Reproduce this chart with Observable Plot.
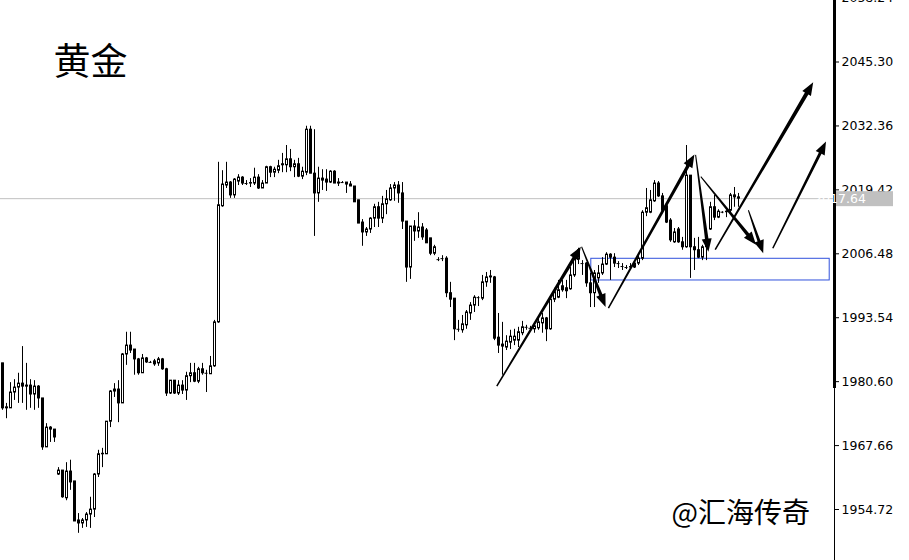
<!DOCTYPE html>
<html><head><meta charset="utf-8">
<script src="https://cdn.jsdelivr.net/npm/d3@7"></script>
<script src="https://cdn.jsdelivr.net/npm/@observablehq/plot@0.6"></script>
<style>html,body{margin:0;padding:0;background:#fff;} #chart{width:909px;height:560px;overflow:hidden;}</style>
</head><body><div id="chart"></div>
<script>
const title = "黄金";
const watermark = "@汇海传奇";

const open = [
1984.3,1975.2,1975.2,1978.4,1979.4,1980.2,1979.8,1979.8,1978.0,1979.6,
1977.2,1967.3,1971.3,1970.9,1961.8,1962.6,1957.0,1962.4,1960.4,1952.5,
1951.9,1952.5,1953.7,1954.7,1961.8,1965.9,1965.9,1972.5,1978.6,1979.0,
1976.2,1986.1,1987.9,1987.1,1985.1,1982.3,1985.3,1984.5,1984.7,1984.3,
1985.1,1983.1,1978.2,1980.8,1978.2,1979.8,1978.8,1981.7,1982.3,1980.6,
1983.1,1982.3,1982.1,1983.7,1992.6,2016.1,2020.3,2020.9,2018.3,2021.1,
2021.9,2020.7,2020.7,2020.7,2021.9,2019.7,2020.7,2024.0,2022.9,2023.3,
2024.6,2024.4,2025.6,2024.0,2024.6,2022.1,2022.9,2031.6,2022.7,2018.7,
2021.7,2021.5,2020.9,2023.1,2020.9,2020.9,2020.9,2020.5,2020.1,2017.3,
2012.8,2010.8,2011.4,2013.6,2015.9,2013.6,2016.5,2017.3,2019.7,2020.3,
2018.7,2013.0,2003.7,2012.0,2011.0,2011.8,2011.2,2009.6,2006.5,2005.3,
2005.5,2005.5,1998.5,1997.4,1991.2,1991.0,1992.0,1994.4,1996.0,1997.6,
1997.4,2000.7,2001.7,2001.7,1989.5,1988.1,1987.5,1988.5,1988.9,1988.9,
1990.4,1991.6,1991.4,1991.2,1991.4,1992.4,1993.4,1991.2,1997.2,1997.6,
1999.9,1999.5,1999.3,2002.1,2005.3,2004.5,2004.5,2000.5,1998.5,2001.5,
2002.5,2004.3,2006.3,2005.7,2004.5,2003.9,2003.7,2003.7,2004.5,2004.5,
2005.5,2014.8,2014.8,2017.1,2020.7,2018.1,2016.1,2013.2,2008.8,2011.4,
2008.8,2007.8,2022.3,2007.8,2007.2,2005.7,2007.8,2011.4,2015.9,2013.8,
2014.9,2014.9,2015.2,2018.3,2017.9
];
const high = [
1984.3,1976.2,1980.4,1981.0,1982.3,1987.7,1984.3,1981.0,1980.8,1979.8,
1977.2,1972.1,1971.5,1970.9,1963.2,1962.6,1964.2,1964.7,1960.4,1953.9,
1952.9,1954.1,1957.2,1962.0,1966.7,1967.1,1972.5,1978.8,1980.2,1980.8,
1986.3,1990.6,1990.6,1987.1,1985.3,1986.1,1985.5,1984.7,1985.1,1985.5,
1985.3,1983.3,1980.8,1980.8,1980.8,1980.8,1982.5,1984.3,1984.3,1983.5,
1984.3,1982.9,1985.7,1993.0,2025.0,2023.3,2025.0,2021.1,2021.7,2022.5,
2022.1,2021.3,2021.7,2023.8,2022.5,2021.3,2024.2,2024.2,2024.0,2025.4,
2026.8,2028.4,2027.6,2025.4,2025.8,2024.0,2032.3,2032.3,2031.6,2024.0,
2023.5,2023.5,2023.3,2023.3,2021.7,2021.1,2020.9,2021.1,2020.1,2017.3,
2013.4,2011.8,2013.8,2016.5,2016.9,2018.1,2019.3,2020.5,2020.9,2021.1,
2020.9,2013.0,2012.0,2013.2,2014.8,2012.6,2011.6,2009.6,2008.2,2005.7,
2006.1,2005.9,2000.7,1997.4,1993.0,1994.0,1995.0,1996.6,1998.0,1997.8,
2002.1,2002.7,2003.1,2001.9,1994.4,1992.6,1989.9,1991.0,1991.2,1991.6,
1992.8,1992.0,1991.8,1992.4,1993.6,1994.4,1993.6,1997.6,1999.5,2001.1,
2001.1,2001.1,2003.7,2006.7,2007.6,2005.1,2004.7,2002.5,2003.1,2004.1,
2005.7,2006.7,2006.5,2006.5,2004.9,2004.5,2004.1,2004.5,2005.1,2006.1,
2015.2,2019.7,2019.3,2021.3,2021.1,2018.7,2016.3,2013.6,2011.6,2011.8,
2009.8,2028.4,2022.3,2009.6,2009.8,2008.2,2009.2,2016.9,2018.3,2015.4,
2015.0,2015.2,2018.7,2019.9,2018.7
];
const low = [
1974.8,1973.1,1975.2,1976.8,1976.2,1976.2,1974.8,1975.2,1974.8,1975.2,
1966.7,1967.3,1968.3,1968.3,1961.6,1957.0,1956.5,1958.6,1952.3,1949.9,
1950.9,1951.1,1950.9,1953.1,1961.2,1963.2,1965.9,1971.3,1977.4,1972.3,
1976.2,1983.9,1986.3,1981.9,1981.9,1982.3,1984.3,1984.3,1983.7,1983.7,
1982.9,1977.6,1978.0,1978.0,1977.8,1978.0,1976.8,1980.4,1980.4,1980.2,
1981.9,1978.4,1982.1,1983.5,1992.4,2015.9,2019.7,2017.7,2017.7,2020.3,
2020.3,2020.3,2019.9,2020.3,2019.5,2019.7,2020.7,2021.9,2021.9,2022.7,
2022.9,2022.9,2023.1,2021.9,2021.9,2021.5,2022.3,2022.7,2010.0,2016.9,
2019.3,2019.1,2020.7,2020.7,2020.1,2020.7,2018.7,2020.1,2016.9,2012.6,
2008.0,2010.0,2010.6,2011.8,2011.8,2012.6,2014.4,2017.1,2017.1,2016.7,
2011.4,2000.7,2001.3,2009.0,2009.6,2009.2,2008.6,2006.1,2006.1,2004.9,
2004.9,1997.6,1995.6,1988.9,1990.6,1990.4,1991.2,1993.0,1994.6,1995.8,
1997.0,1999.7,2000.5,1988.9,1986.3,1981.9,1986.9,1987.1,1987.9,1987.5,
1989.9,1991.0,1991.0,1990.4,1991.0,1990.4,1988.7,1991.0,1996.6,1997.4,
1998.7,1997.4,1999.1,2001.7,2004.3,2002.1,1999.7,1995.6,1995.6,2000.5,
2002.1,2004.1,2001.1,2003.7,2003.5,2003.1,2003.3,2003.5,2003.5,2004.1,
2005.1,2014.0,2014.6,2016.9,2017.9,2014.8,2012.6,2008.8,2008.6,2008.6,
2007.2,2007.6,2001.5,2003.1,2005.5,2005.1,2005.1,2011.2,2013.2,2013.6,
2014.6,2013.8,2014.8,2015.9,2015.9
];
const close = [
1975.2,1975.4,1978.4,1979.4,1980.2,1979.6,1979.6,1978.0,1979.6,1977.2,
1967.3,1971.3,1970.9,1969.3,1962.6,1957.2,1962.4,1960.2,1952.3,1951.9,
1952.5,1953.7,1954.7,1961.8,1965.9,1966.0,1972.5,1978.6,1979.0,1976.2,
1986.1,1987.9,1986.9,1985.1,1982.3,1985.3,1984.5,1984.5,1984.1,1985.1,
1983.1,1978.2,1980.8,1978.2,1979.8,1978.8,1981.7,1982.3,1980.6,1983.1,
1982.3,1982.3,1983.7,1992.6,2016.3,2020.5,2020.9,2018.3,2021.5,2021.9,
2020.7,2020.7,2020.8,2021.9,2019.7,2020.7,2024.0,2022.9,2023.5,2024.2,
2024.4,2025.6,2024.0,2024.6,2022.1,2023.1,2031.6,2022.7,2018.7,2021.7,
2021.3,2020.9,2023.1,2020.7,2020.7,2020.9,2020.5,2020.1,2016.9,2012.6,
2010.8,2011.4,2013.6,2015.9,2013.6,2016.5,2017.5,2019.7,2020.3,2018.7,
2013.0,2003.7,2012.0,2011.0,2011.8,2009.8,2008.6,2006.5,2007.8,2005.3,
2005.5,1998.5,1997.2,1991.2,1991.2,1992.2,1994.6,1996.0,1997.6,1997.6,
2000.7,2001.7,2001.9,1989.3,1987.9,1987.7,1988.7,1989.7,1989.7,1990.6,
1991.6,1991.6,1991.4,1991.8,1992.6,1993.4,1991.2,1997.2,1998.7,1999.1,
1999.1,1998.9,2002.1,2005.5,2007.2,2004.5,2000.5,1998.5,2002.5,2002.5,
2004.3,2006.3,2005.7,2004.5,2004.5,2003.9,2003.7,2003.8,2003.7,2005.5,
2014.8,2015.7,2017.3,2020.7,2018.1,2015.2,2012.8,2009.2,2010.8,2008.8,
2007.8,2022.3,2007.8,2007.2,2005.7,2007.8,2008.6,2015.9,2013.8,2015.0,
2014.9,2015.0,2018.3,2017.9,2017.64
];

const currentPrice = 2017.64;
const yTicks = [1954.72, 1967.66, 1980.60, 1993.54, 2006.48, 2019.42, 2032.36, 2045.30, 2058.24];
const xDomain = [-0.5, 208];
const yDomain = [1944.40, 2057.75];
const thickAxisFrom = 1979.2;

// blue zone rectangle (bar index, price)
const zoneX = [147.2, 206.8];
const zoneY = [2001.08, 2005.47];

// hand-drawn arrows (bar index, price): start -> tip
const arrowX1 = [123.7, 144.9, 151.6, 173.4, 174.7, 186.6, 178.3, 192.7];
const arrowY1 = [1979.6, 2007.8, 1995.4, 2026.4, 2022.0, 2015.2, 2007.2, 2007.5];
const arrowX2 = [144.7, 150.9, 173.1, 176.6, 188.5, 190.3, 202.8, 206.0];
const arrowY2 = [2007.8, 1995.6, 2026.5, 2006.8, 2008.2, 2006.5, 2041.1, 2029.1];

// ---- build ----
const candles = open.map((o, i) => ({i, o, h: high[i], l: low[i], c: close[i]}));
const bodies = candles.filter(d => d.o !== d.c);
const dojis = candles.filter(d => d.o === d.c);
const arrows = arrowX1.map((x, k) => ({x1: x, y1: arrowY1[k], x2: arrowX2[k], y2: arrowY2[k]}));
const arrowStyle = [[1.5,3.5],[1,3.5],[1.5,3.5],[1,3.5],[1,3.5],[1,3],[1.5,4],[1.5,3]];

const NS = "http://www.w3.org/2000/svg";
function arrowMark(index, scales) {
  const g = document.createElementNS(NS, "g");
  arrows.forEach((a, k) => {
    const [w0, w1] = arrowStyle[k];
    const x0 = scales.x(a.x1), y0 = scales.y(a.y1), x1 = scales.x(a.x2), y1 = scales.y(a.y2);
    const dx = x1 - x0, dy = y1 - y0, L = Math.hypot(dx, dy);
    const ux = dx / L, uy = dy / L, nx = -uy, ny = ux;
    const hl = 13, hw = 5;
    const bx = x1 - ux * hl, by = y1 - uy * hl;
    const pts = [
      [x0 + nx * w0 / 2, y0 + ny * w0 / 2],
      [bx + nx * w1 / 2, by + ny * w1 / 2],
      [bx + nx * hw, by + ny * hw],
      [x1, y1],
      [bx - nx * hw, by - ny * hw],
      [bx - nx * w1 / 2, by - ny * w1 / 2],
      [x0 - nx * w0 / 2, y0 - ny * w0 / 2]
    ];
    const p = document.createElementNS(NS, "polygon");
    p.setAttribute("points", pts.map(q => q.join(",")).join(" "));
    p.setAttribute("fill", "#000");
    g.appendChild(p);
  });
  return g;
}

function priceLabel(index, scales) {
  const g = document.createElementNS(NS, "g");
  const y = scales.y(currentPrice) + 0.5;
  const r = document.createElementNS(NS, "rect");
  r.setAttribute("x", 836); r.setAttribute("y", y - 7.5);
  r.setAttribute("width", 57); r.setAttribute("height", 15);
  r.setAttribute("fill", "#c0c0c0");
  g.appendChild(r);
  const t = document.createElementNS(NS, "text");
  t.setAttribute("x", 840); t.setAttribute("y", y);
  t.setAttribute("dy", "0.36em");
  t.setAttribute("fill", "#fff");
  t.setAttribute("font-family", "DejaVu Sans");
  t.setAttribute("font-size", "12.5px");
  t.textContent = currentPrice.toFixed(2);
  g.appendChild(t);
  return g;
}

const hasAxisMark = typeof Plot.axisY === "function";
const axisOpts = {tickFormat: d => d.toFixed(2), tickSize: 4, tickPadding: 3, label: null};

const chart = Plot.plot({
  width: 909, height: 560,
  marginLeft: 0, marginRight: 75, marginTop: 0, marginBottom: 0,
  style: {background: "#fff", fontFamily: "DejaVu Sans", fontSize: "12.5px", color: "#000"},
  x: {domain: xDomain, axis: null},
  y: hasAxisMark ? {domain: yDomain} : {domain: yDomain, axis: "right", ticks: yTicks, ...axisOpts},
  marks: [
    Plot.ruleY([currentPrice], {stroke: "#c0c0c0"}),
    Plot.rect([{x1: zoneX[0], x2: zoneX[1], y1: zoneY[0], y2: zoneY[1]}], {x1: "x1", x2: "x2", y1: "y1", y2: "y2", fill: "none", stroke: "#3050dc", strokeWidth: 1}),
    Plot.ruleX(candles, {x: "i", y1: "l", y2: "h", stroke: "#000", strokeWidth: 1}),
    Plot.rect(bodies, {x1: d => d.i - 0.125, x2: d => d.i + 0.375, y1: "o", y2: "c", fill: d => d.c > d.o ? "#fff" : "#000", stroke: "#000", strokeWidth: 1}),
    Plot.ruleY(dojis, {y: "c", x1: d => d.i - 0.375, x2: d => d.i + 0.375, stroke: "#000"}),
    arrowMark,
    hasAxisMark ? Plot.axisY(yTicks, {anchor: "right", ...axisOpts}) : null,
    Plot.ruleX([{x: xDomain[1], y1: thickAxisFrom, y2: yDomain[1]}], {x: "x", y1: "y1", y2: "y2", stroke: "#000", strokeWidth: 3}),
    Plot.ruleX([{x: xDomain[1], y1: yDomain[0], y2: thickAxisFrom}], {x: "x", y1: "y1", y2: "y2", stroke: "#000", strokeWidth: 1}),
    priceLabel,
    Plot.text([title], {text: d => d, frameAnchor: "top-left", dx: 53, dy: 63, textAnchor: "start", lineAnchor: "middle", fontSize: 37, fontFamily: "Noto Sans CJK SC", fill: "#000"}),
    Plot.text([watermark], {text: d => d, frameAnchor: "top-left", dx: 671, dy: 514, textAnchor: "start", lineAnchor: "middle", fontSize: 28, fontFamily: "Noto Sans CJK SC", fill: "#000"})
  ]
});
document.getElementById("chart").appendChild(chart);
</script>
</body></html>
